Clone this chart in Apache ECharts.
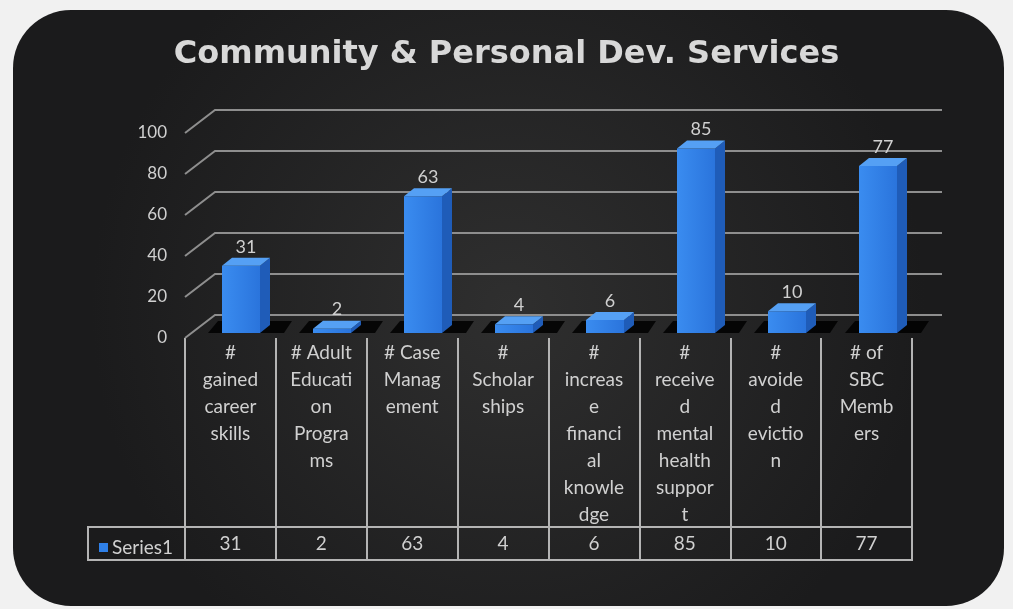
<!DOCTYPE html>
<html>
<head>
<meta charset="utf-8">
<script src="https://cdn.jsdelivr.net/npm/echarts@6/dist/echarts.min.js"></script>
<style>
html, body { margin: 0; padding: 0; background: #f1f1f1; }
#main { width: 1013px; height: 609px; }
</style>
</head>
<body>
<div id="main"></div>
<script>
// labels wrapped the same way the picture wraps them
const categories = [
  '#\ngained\ncareer\nskills',
  '# Adult\nEducati\non\nProgra\nms',
  '# Case\nManag\nement',
  '#\nScholar\nships',
  '#\nincreas\ne\nfinanci\nal\nknowle\ndge',
  '#\nreceive\nd\nmental\nhealth\nsuppor\nt',
  '#\navoide\nd\nevictio\nn',
  '# of\nSBC\nMemb\ners'
];
const values = [31, 2, 63, 4, 6, 85, 10, 77];
const yTicks = [0, 20, 40, 60, 80, 100];
const seriesName = 'Series1';

const textColor = '#d0d0d0';
const lineColor = '#b4b4b4';
const font = 'Lato';

let chart = echarts.init(document.getElementById('main'));

// back wall lines, shifted up/right for the 3d look
function renderWall(params, api) {
  let cs = params.coordSys;
  let y = api.coord([0, api.value(1)])[1];
  let bx = 30, by = -23;
  return {
    type: 'polyline',
    silent: true,
    shape: { points: [[cs.x, y], [cs.x + bx, y + by], [cs.x + cs.width + bx, y + by]] },
    style: { stroke: '#8e8e8e', lineWidth: 2, fill: null }
  };
}

function renderBar(params, api) {
  let i = api.value(0), v = api.value(1);
  let top = api.coord([i, v]);
  let base = api.coord([i, 0]);
  let w = 38, dx = 10, dy = -8;
  let x0 = top[0] - w / 2, x1 = x0 + w;
  let yt = top[1], yb = base[1];
  return {
    type: 'group',
    children: [
      {
        type: 'polygon',
        shape: { points: [[x0 - 14, yb], [x1 + dx + 14, yb], [x1 + dx + 22, yb - 12], [x0 - 4, yb - 12]] },
        style: { fill: 'rgba(0,0,0,0.85)' }
      },
      {
        type: 'rect',
        shape: { x: x0, y: yt, width: w, height: yb - yt },
        style: {
          fill: new echarts.graphic.LinearGradient(0, 0, 1, 0, [
            { offset: 0, color: '#3a8cf0' },
            { offset: 1, color: '#2a74dc' }
          ])
        }
      },
      {
        type: 'polygon',
        shape: { points: [[x1, yt], [x1 + dx, yt + dy], [x1 + dx, yb + dy], [x1, yb]] },
        style: { fill: '#1f5cb8' }
      },
      {
        type: 'polygon',
        shape: { points: [[x0, yt], [x1, yt], [x1 + dx, yt + dy], [x0 + dx, yt + dy]] },
        style: { fill: '#55a0f4' }
      },
      {
        type: 'text',
        style: {
          x: (x0 + x1 + dx) / 2, y: yt + dy - 2,
          text: String(v), align: 'center', verticalAlign: 'bottom',
          fill: textColor, fontSize: 18, fontFamily: font
        }
      }
    ]
  };
}

let option = {
  backgroundColor: '#f1f1f1',
  title: {
    text: 'Community & Personal Dev. Services',
    left: 'center',
    top: 34,
    textStyle: { color: '#d8d8d8', fontSize: 32, fontWeight: 'bold', fontFamily: 'DejaVu Sans' }
  },
  legend: {
    data: [seriesName],
    left: 94,
    top: 533,
    icon: 'rect',
    itemWidth: 9,
    itemHeight: 9,
    itemGap: 4,
    textStyle: { color: textColor, fontSize: 19, fontFamily: font, padding: [0, 0, 0, -1] }
  },
  graphic: [
    {
      type: 'rect',
      z: -10,
      silent: true,
      shape: { x: 13, y: 10, width: 991, height: 596, r: 58 },
      style: {
        fill: new echarts.graphic.RadialGradient(0.5, 0.5, 0.7, [
          { offset: 0, color: '#2f2f2f' },
          { offset: 1, color: '#1b1b1c' }
        ])
      }
    },
    {
      type: 'rect',
      silent: true,
      shape: { x: 88, y: 527, width: 824, height: 33 },
      style: { fill: null, stroke: lineColor, lineWidth: 2 }
    }
  ],
  grid: [
    { left: 185, right: 101, top: 133, bottom: 271 },
    { left: 195.5, right: 89.5, top: 116, bottom: 276 }
  ],
  xAxis: [
    {
      gridIndex: 0,
      type: 'category',
      data: categories,
      axisLine: { show: false },
      axisTick: { show: true, length: 222, lineStyle: { color: lineColor, width: 2 } },
      axisLabel: { interval: 0, color: textColor, fontSize: 19, lineHeight: 27, margin: 1, fontFamily: font }
    },
    {
      gridIndex: 0,
      type: 'category',
      position: 'bottom',
      offset: 190,
      data: values.map(String),
      axisLine: { show: false },
      axisTick: { show: false },
      axisLabel: { interval: 0, color: textColor, fontSize: 19, lineHeight: 22, margin: 5, fontFamily: font }
    },
    { gridIndex: 1, type: 'category', data: categories, show: false }
  ],
  yAxis: [
    {
      gridIndex: 0,
      type: 'value',
      min: 0,
      max: 100,
      interval: 20,
      axisLine: { show: false },
      axisTick: { show: false },
      splitLine: { show: false },
      axisLabel: { color: textColor, fontSize: 17, margin: 18, fontFamily: font }
    },
    { gridIndex: 1, type: 'value', min: 0, max: 100, show: false }
  ],
  series: [
    {
      name: 'wall',
      type: 'custom',
      xAxisIndex: 0,
      yAxisIndex: 0,
      z: 1,
      silent: true,
      clip: false,
      renderItem: renderWall,
      data: yTicks.map(t => [0, t])
    },
    {
      name: seriesName,
      type: 'custom',
      xAxisIndex: 2,
      yAxisIndex: 1,
      z: 3,
      clip: false,
      itemStyle: { color: '#2f80e8' },
      renderItem: renderBar,
      data: values.map((v, i) => [i, v])
    }
  ]
};
chart.setOption(option);
</script>
</body>
</html>
